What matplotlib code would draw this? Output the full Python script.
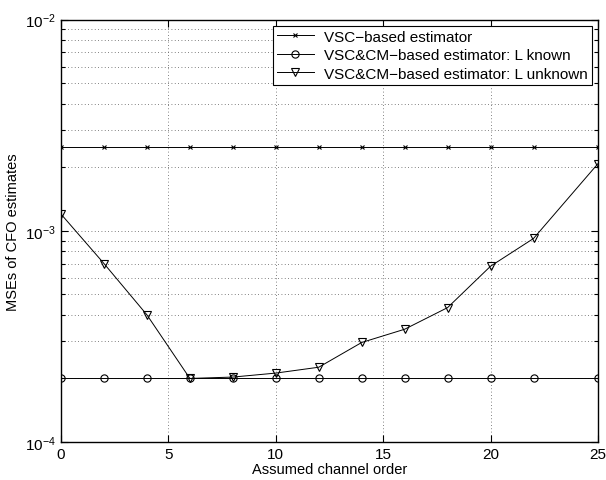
import numpy as np
import matplotlib
matplotlib.use("Agg")
import matplotlib.pyplot as plt

plt.rcParams["font.family"] = ["Liberation Sans", "DejaVu Sans"]
plt.rcParams["mathtext.default"] = "regular"

# ---- data ----
orders = [0, 2, 4, 6, 8, 10, 12, 14, 16, 18, 20, 22, 25]
mse_vsc = [2.5e-3] * len(orders)
mse_known = [2.0e-4] * len(orders)
mse_unknown = [1.2e-3, 7.0e-4, 4.0e-4, 2.0e-4, 2.03e-4, 2.12e-4, 2.26e-4,
               2.96e-4, 3.42e-4, 4.33e-4, 6.8e-4, 9.2e-4, 2.08e-3]
labels = ["VSC\u2212based estimator",
          "VSC&CM\u2212based estimator: L known",
          "VSC&CM\u2212based estimator: L unknown"]


def main():
    fig = plt.figure(figsize=(6.06, 4.81), dpi=100)
    ax = fig.add_axes([0.1007, 0.079, 0.886, 0.878])

    ax.semilogy(orders, mse_vsc, "k-", marker="x", ms=3.5, mew=0.8, lw=0.7,
                label=labels[0])
    ax.semilogy(orders, mse_known, "k-", marker="o", ms=5.2, mfc="none",
                mew=0.8, lw=0.7, label=labels[1])
    ax.semilogy(orders, mse_unknown, "k-", marker="v", ms=5.5, mfc="none",
                mew=0.8, lw=0.7, label=labels[2])

    ax.set_xlim(0, 25)
    ax.set_ylim(1e-4, 1e-2)
    ax.set_xticks([0, 5, 10, 15, 20, 25])
    ax.grid(True, which="both", ls=(0, (1, 3)), color="0.35", lw=0.6)
    ax.tick_params(which="both", direction="in", top=True, right=True,
                   labelsize=11, width=0.8)
    ax.tick_params(which="major", length=5)
    ax.tick_params(which="minor", length=3)
    for s in ax.spines.values():
        s.set_linewidth(1.0)

    ax.set_xlabel("Assumed channel order", fontsize=10.5, labelpad=1)
    ax.set_ylabel("MSEs of CFO estimates", fontsize=10.5, labelpad=4)

    leg = ax.legend(loc="upper right", fontsize=11, fancybox=False,
                    framealpha=1, edgecolor="k", borderaxespad=0.4,
                    handlelength=2.4, borderpad=0.25, labelspacing=0.3,
                    handletextpad=0.7)
    leg.get_frame().set_linewidth(0.8)

    fig.savefig("out.png", dpi=100, facecolor="white")


if __name__ == "__main__":
    main()
